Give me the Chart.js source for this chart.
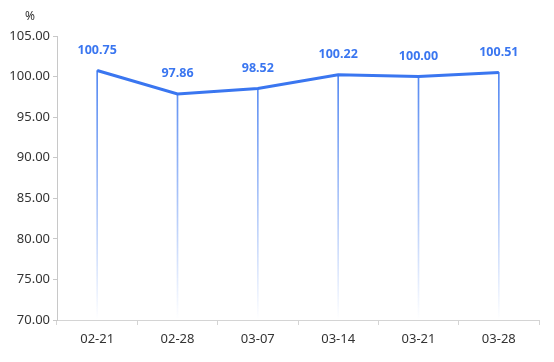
<!DOCTYPE html>
<html lang="en">
<head>
    <meta charset="UTF-8">
    <title>Weekly index</title>
    <script src="https://cdn.jsdelivr.net/npm/chart.js"></script>
    <style>
        html, body { margin: 0; padding: 0; background: #fff; }
        #wrap { width: 554px; height: 362px; }
    </style>
</head>
<body>
    <div id="wrap"><canvas id="chart"></canvas></div>

    <script>
        // data
        const dates = ['02-21', '02-28', '03-07', '03-14', '03-21', '03-28'];
        const values = [100.75, 97.86, 98.52, 100.22, 100.00, 100.51];
        const yTicks = [70, 75, 80, 85, 90, 95, 100, 105];

        const blue = '#3a76f0';
        const font = "'Noto Sans', 'DejaVu Sans', sans-serif";

        // value labels above the points + the "%" unit
        const labelsPlugin = {
            id: 'labels',
            afterDatasetsDraw(chart) {
                const ctx = chart.ctx;
                const meta = chart.getDatasetMeta(1);
                ctx.save();
                ctx.font = 'bold 12.5px ' + font;
                ctx.fillStyle = blue;
                ctx.textAlign = 'center';
                ctx.textBaseline = 'middle';
                meta.data.forEach((pt, i) => {
                    ctx.fillText(values[i].toFixed(2), pt.x, pt.y - 20);
                });
                ctx.font = '12px ' + font;
                ctx.fillStyle = '#333';
                ctx.fillText('%', chart.chartArea.left - 27, chart.chartArea.top - 19);
                ctx.restore();
            }
        };

        function dropGradient(context) {
            const area = context.chart.chartArea;
            if (!area) return blue;
            const g = context.chart.ctx.createLinearGradient(0, area.top, 0, area.bottom);
            g.addColorStop(0, 'rgba(58,118,240,1)');
            g.addColorStop(0.3, 'rgba(58,118,240,0.7)');
            g.addColorStop(1, 'rgba(58,118,240,0)');
            return g;
        }

        new Chart(document.getElementById('chart'), {
            type: 'bar',
            data: {
                labels: dates,
                datasets: [{
                    type: 'bar',
                    data: values,
                    barThickness: 1,
                    backgroundColor: dropGradient,
                    order: 2
                }, {
                    type: 'line',
                    data: values,
                    borderColor: blue,
                    borderWidth: 3,
                    pointRadius: 0,
                    tension: 0,
                    order: 1
                }]
            },
            plugins: [labelsPlugin],
            options: {
                responsive: true,
                maintainAspectRatio: false,
                animation: false,
                layout: { padding: { top: 36, right: 15, left: 0, bottom: 0 } },
                plugins: { legend: { display: false }, tooltip: { enabled: false } },
                scales: {
                    x: {
                        offset: true,
                        afterFit(scale) { scale.height = 42; },
                        border: { color: '#d4d4d4' },
                        grid: { offset: true, drawOnChartArea: false, color: '#d4d4d4', tickLength: 5 },
                        ticks: { color: '#333', font: { size: 13, family: font }, padding: 6 }
                    },
                    y: {
                        min: 70,
                        max: 105,
                        afterFit(scale) { scale.width = 57; },
                        afterBuildTicks(scale) { scale.ticks = yTicks.map(v => ({ value: v })); },
                        border: { color: '#c8c8c8' },
                        grid: { drawOnChartArea: false, color: '#c8c8c8', tickLength: 4 },
                        ticks: {
                            color: '#333',
                            font: { size: 13, family: font },
                            padding: 3,
                            callback: v => Number(v).toFixed(2)
                        }
                    }
                }
            }
        });
    </script>
</body>
</html>
